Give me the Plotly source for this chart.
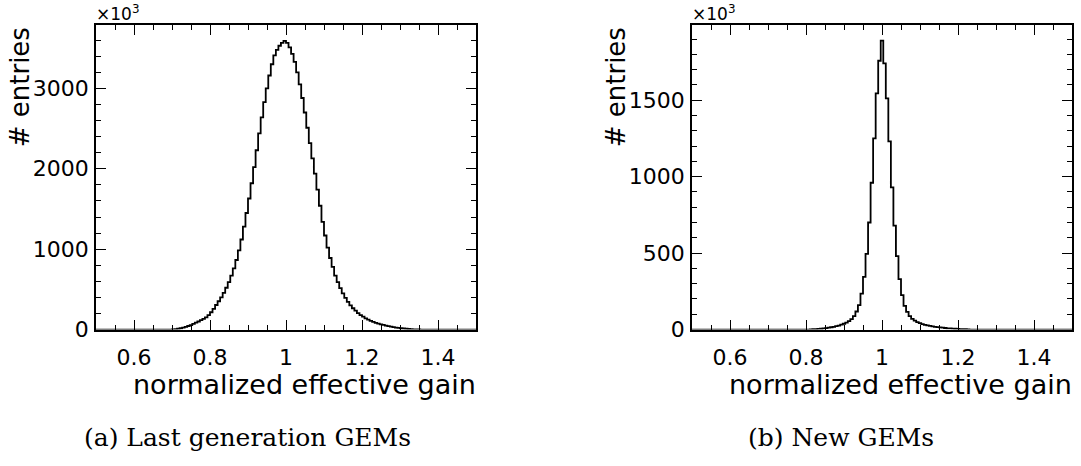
import plotly.graph_objects as go

# ---------------- data ----------------
bin_width = 1 / 150

# (a) Last generation GEMs: first non-empty bin starts at 0.70
left_first_edge = 0.70
left_counts = [
    2, 5, 10, 16, 24, 33, 44, 56, 70, 85,
    100, 116, 132, 152, 180, 215, 258, 305, 352, 400,
    455, 520, 590, 670, 760, 865, 985, 1120, 1280, 1450,
    1630, 1820, 2020, 2230, 2440, 2640, 2830, 3000, 3160, 3300,
    3410, 3480, 3530, 3565, 3590, 3565, 3510, 3430, 3330, 3200,
    3050, 2880, 2700, 2510, 2320, 2130, 1940, 1740, 1540, 1340,
    1170, 1020, 890, 780, 670, 590, 515, 450, 395, 345,
    300, 265, 235, 205, 180, 160, 140, 123, 108, 95,
    84, 74, 65, 57, 49, 42, 36, 30, 25, 20,
    16, 13, 10, 7, 5, 3, 2, 1,
]

# (b) New GEMs: first non-empty bin centred at 0.8133
right_first_edge = 0.81
right_counts = [
    1, 2, 3, 4, 5, 7, 9, 12, 15, 18,
    22, 26, 32, 38, 45, 55, 68, 88, 118, 160,
    235, 345, 495, 700, 960, 1250, 1544, 1758, 1890, 1741,
    1512, 1230, 930, 680, 480, 330, 225, 155, 115, 88,
    70, 58, 49, 42, 36, 31, 27, 24, 21, 18,
    16, 14, 12, 10, 8, 7, 6, 5, 4, 3,
    2, 2, 1,
]

x_range = [0.5, 1.5]
left_y_max = 3785
right_y_max = 1990
x_title = "normalized effective gain"
y_title = "# entries"
captions = ["(a) Last generation GEMs", "(b) New GEMs"]

# ---------------- figure ----------------
W, H = 1081, 466
FONT = "DejaVu Sans"


def step_xy(first_edge, counts):
    xs = [x_range[0]]
    ys = [0]
    for i, c in enumerate(counts):
        xs.append(first_edge + i * bin_width)
        ys.append(c)
    xs.append(first_edge + len(counts) * bin_width)
    ys.append(0)
    xs.append(x_range[1])
    ys.append(0)
    return xs, ys


fig = go.Figure()
for k, (fe, cnt) in enumerate([(left_first_edge, left_counts), (right_first_edge, right_counts)]):
    xs, ys = step_xy(fe, cnt)
    fig.add_trace(go.Scatter(
        x=xs, y=ys, mode="lines", line=dict(shape="hv", color="black", width=1.8),
        xaxis="x" if k == 0 else "x2", yaxis="y" if k == 0 else "y2",
        showlegend=False, hoverinfo="skip",
    ))

px_l = [96, 476]
px_r = [692, 1072]
top_px, bot_px = 26, 339
ydom = [(H - bot_px) / H, (H - top_px) / H]

minor_common = dict(ticks="inside", ticklen=5, tickwidth=1.3, tickcolor="black", showgrid=False)
common_x = dict(
    range=x_range, tick0=0.6, dtick=0.2, ticks="inside", ticklen=10, tickwidth=1.3,
    tickcolor="black", showline=True, linecolor="black", linewidth=1.8, mirror="allticks",
    showgrid=False, zeroline=False, tickfont=dict(family=FONT, size=22, color="black"),
    minor=dict(dtick=0.05, **minor_common),
    ticklabelstandoff=7,
)
common_y = dict(
    ticks="inside", ticklen=10, tickwidth=1.3, tickcolor="black", showline=True,
    linecolor="black", linewidth=1.8, mirror="allticks", showgrid=False, zeroline=False,
    tickfont=dict(family=FONT, size=22, color="black"), ticklabelstandoff=1,
)

fig.update_layout(
    width=W, height=H, margin=dict(l=0, r=0, t=0, b=0),
    paper_bgcolor="white", plot_bgcolor="white",
    xaxis=dict(domain=[px_l[0] / W, px_l[1] / W], anchor="y", **common_x),
    xaxis2=dict(domain=[px_r[0] / W, px_r[1] / W], anchor="y2", **common_x),
    yaxis=dict(domain=ydom, anchor="x", range=[0, left_y_max], dtick=1000,
               minor=dict(dtick=200, **minor_common), **common_y),
    yaxis2=dict(domain=ydom, anchor="x2", range=[0, right_y_max], dtick=500,
                minor=dict(dtick=100, **minor_common), **common_y),
)

anns = []
for k, (pl, cap) in enumerate([(px_l, captions[0]), (px_r, captions[1])]):
    # x title, right aligned at plot right edge
    anns.append(dict(x=(pl[1] + 2) / W, y=(H - 396) / H, xref="paper", yref="paper",
                     xanchor="right", yanchor="middle", text=x_title, showarrow=False,
                     font=dict(family=FONT, size=27, color="black")))
    # y title, rotated, top aligned
    ytx = 20 if k == 0 else 616
    anns.append(dict(x=ytx / W, y=(H - 26) / H, xref="paper", yref="paper",
                     xanchor="center", yanchor="top", text=y_title, textangle=-90, showarrow=False,
                     font=dict(family=FONT, size=26, color="black")))
    # exponent label
    anns.append(dict(x=(pl[0] - 2) / W, y=1.0, xref="paper", yref="paper",
                     xanchor="left", yanchor="top", text="×10<sup>3</sup>", showarrow=False,
                     font=dict(family=FONT, size=17, color="black")))
    # caption
    capx = 247 if k == 0 else 841
    anns.append(dict(x=capx / W, y=(H - 450) / H, xref="paper", yref="paper",
                     xanchor="center", yanchor="middle", text=cap, showarrow=False,
                     font=dict(family="DejaVu Serif", size=25, color="black")))

fig.update_layout(annotations=anns)
fig.write_html("out.html", post_script="document.body.style.margin='0px';",
               config={"displayModeBar": False})
